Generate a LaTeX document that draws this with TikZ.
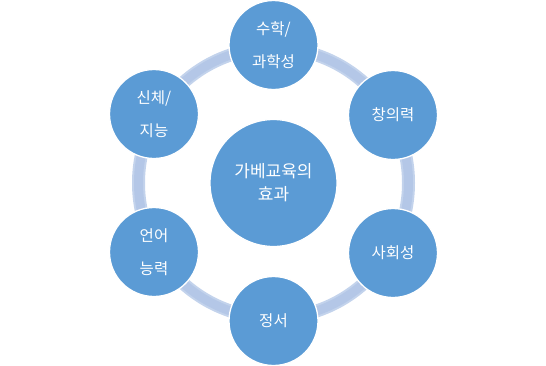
\documentclass[tikz,border=0pt]{standalone}
\usepackage{fontspec}
\newfontfamily\kr{Noto Sans CJK KR}
\definecolor{nodeblue}{HTML}{5B9BD5}
\definecolor{ringblue}{HTML}{B4C7E7}
\definecolor{ringedge}{HTML}{C3D3EC}
\begin{document}
\begin{tikzpicture}[x=1pt,y=-1pt,
  outer/.style={circle,fill=nodeblue,draw=white,line width=1.3pt,minimum size=89pt,inner sep=0pt,
    text=white,align=center,font=\kr\fontsize{15.5}{33}\selectfont},
  outerone/.style={outer,font=\kr\fontsize{15.5}{18}\selectfont},
  inner/.style={circle,fill=nodeblue,draw=white,line width=1.3pt,minimum size=127pt,inner sep=0pt,
    text=white,align=center,font=\kr\fontsize{17}{23}\selectfont},
  ringline/.style={draw=ringedge,line width=13pt},
  ringcore/.style={draw=ringblue,line width=9pt}]
\useasboundingbox (0,0) rectangle (546,365);
\coordinate (ctr) at (273.5,183);
\draw[ringline] (ctr) circle[radius=135pt];
\draw[ringcore] (ctr) circle[radius=135pt];
\node[inner] (c) at (ctr) {가베교육의\\효과};
\node[outer] (t) at (273.5,45) {수학/\\과학성};
\node[outerone] (ur) at (393,115) {창의력};
\node[outerone] (lr) at (393,253) {사회성};
\node[outerone] (b) at (273.5,321) {정서};
\node[outer] (ll) at (154,252) {언어\\능력};
\node[outer] (ul) at (154,114) {신체/\\지능};
\end{tikzpicture}
\end{document}
